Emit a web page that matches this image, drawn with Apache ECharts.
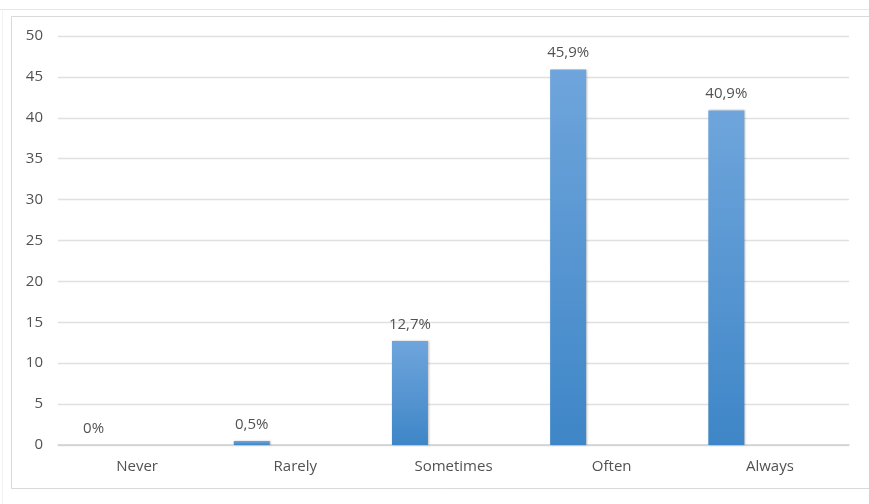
<!DOCTYPE html>
<html>
<head>
<meta charset="utf-8">
<script src="https://cdn.jsdelivr.net/npm/echarts@6/dist/echarts.min.js"></script>
<style>
  html, body { margin: 0; padding: 0; background: #ffffff; }
  #chart { width: 869px; height: 504px; }
</style>
</head>
<body>
<div id="chart"></div>
<script>
// Frequency of answers, in percent
const categories = ['Never', 'Rarely', 'Sometimes', 'Often', 'Always'];
const percentValues = [0, 0.5, 12.7, 45.9, 40.9];
// Empty companion series keeps the bars left of each category centre
const emptyValues = ['-', '-', '-', '-', '-'];
const yTicks = { min: 0, max: 50, interval: 5 };

const textColor = '#525252';
const fontFamily = '"Open Sans", "Liberation Sans", sans-serif';

const chart = echarts.init(document.getElementById('chart'), null, { renderer: 'canvas' });

chart.setOption({
  animation: false,
  backgroundColor: '#ffffff',
  graphic: [
    { type: 'line', shape: { x1: 0, y1: 9.5, x2: 869, y2: 9.5 }, style: { stroke: '#e6e6e6', lineWidth: 1 }, silent: true },
    { type: 'line', shape: { x1: 2.5, y1: 9, x2: 2.5, y2: 504 }, style: { stroke: '#f2f2f2', lineWidth: 1 }, silent: true },
    { type: 'rect', shape: { x: 11.5, y: 16.5, width: 900, height: 472 }, style: { fill: 'none', stroke: '#d9d9d9', lineWidth: 1 }, silent: true }
  ],
  grid: { left: 58, right: 20, top: 36, bottom: 59, containLabel: false, outerBoundsMode: 'none' },
  xAxis: {
    type: 'category',
    data: categories,
    axisLine: { lineStyle: { color: '#cfcfcf', width: 1.5 } },
    axisTick: { show: false },
    axisLabel: { color: textColor, fontSize: 15, fontFamily: fontFamily, margin: 14 }
  },
  yAxis: {
    type: 'value',
    min: yTicks.min,
    max: yTicks.max,
    interval: yTicks.interval,
    axisLine: { show: false },
    axisTick: { show: false },
    axisLabel: { color: textColor, fontSize: 15, fontFamily: fontFamily, margin: 15 },
    splitLine: { lineStyle: { color: '#e0e0e0', width: 1.3 } }
  },
  series: [
    {
      type: 'bar',
      data: percentValues,
      barWidth: 36,
      barGap: '142%',
      itemStyle: {
        color: new echarts.graphic.LinearGradient(0, 0, 0, 1, [
          { offset: 0, color: '#6fa5dc' },
          { offset: 1, color: '#3e86c7' }
        ]),
        shadowColor: 'rgba(0,0,0,0.25)',
        shadowBlur: 2,
        shadowOffsetX: 1
      },
      label: {
        show: true,
        position: 'top',
        distance: 9,
        color: textColor,
        fontSize: 15,
        fontFamily: fontFamily,
        formatter: p => String(p.value).replace('.', ',') + '%'
      }
    },
    {
      type: 'bar',
      data: emptyValues,
      barWidth: 36,
      silent: true
    }
  ]
});
</script>
</body>
</html>
